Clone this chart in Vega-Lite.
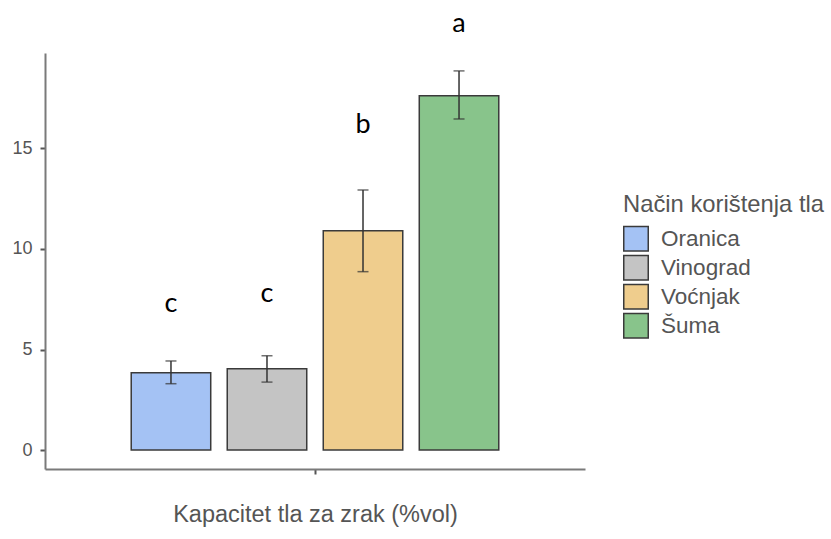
{
  "$schema": "https://vega.github.io/schema/vega-lite/v6.json",
  "autosize": "none",
  "width": 540,
  "height": 416,
  "padding": {"left": 45, "top": 53, "right": 246, "bottom": 70},
  "background": "white",
  "config": {
    "view": {"stroke": null},
    "axis": {"grid": false, "domainColor": "#7a7a7a", "domainWidth": 2, "tickColor": "#555", "tickWidth": 2, "tickSize": 5, "labelFont": "Liberation Sans", "titleFont": "Liberation Sans", "labelColor": "#555", "titleColor": "#555"}
  },
  "data": {
    "values": [
      {"grp": "K", "nacin": "Oranica", "mean": 3.84, "lo": 3.3, "hi": 4.43, "letter": "c", "ly": 6.88},
      {"grp": "K", "nacin": "Vinograd", "mean": 4.04, "lo": 3.38, "hi": 4.69, "letter": "c", "ly": 7.37},
      {"grp": "K", "nacin": "Voćnjak", "mean": 10.9, "lo": 8.87, "hi": 12.93, "letter": "b", "ly": 15.76},
      {"grp": "K", "nacin": "Šuma", "mean": 17.62, "lo": 16.46, "hi": 18.85, "letter": "a", "ly": 20.8}
    ]
  },
  "encoding": {
    "x": {"field": "grp", "type": "nominal", "scale": {"paddingOuter": 0.203, "paddingInner": 0},
      "axis": {"title": "Kapacitet tla za zrak (%vol)", "labels": false, "titleFontSize": 23.5, "titleFontWeight": "normal", "titlePadding": 27}},
    "xOffset": {"field": "nacin", "type": "nominal", "sort": ["Oranica", "Vinograd", "Voćnjak", "Šuma"], "scale": {"paddingInner": 0.172, "paddingOuter": 0.086}}
  },
  "layer": [
    {
      "mark": {"type": "bar", "stroke": "#3a3a3a", "strokeWidth": 1.5},
      "encoding": {
        "y": {"field": "mean", "type": "quantitative", "scale": {"domain": [-0.94, 19.74], "nice": false, "zero": false},
          "axis": {"title": null, "values": [0, 5, 10, 15], "labelFontSize": 18, "labelPadding": 8}},
        "y2": {"datum": 0},
        "color": {"field": "nacin", "type": "nominal", "sort": ["Oranica", "Vinograd", "Voćnjak", "Šuma"],
          "scale": {"domain": ["Oranica", "Vinograd", "Voćnjak", "Šuma"], "range": ["#a4c2f4", "#c4c4c4", "#efcd8d", "#88c48b"]},
          "legend": {"title": "Način korištenja tla", "orient": "none", "legendX": 578, "legendY": 140, "titleFont": "Liberation Sans", "titleFontSize": 23.8, "titleFontWeight": "normal", "titleColor": "#555", "titlePadding": 9, "titleLimit": 400, "labelFont": "Liberation Sans", "labelFontSize": 22.5, "labelColor": "#555", "labelOffset": 12, "labelLimit": 300, "symbolType": "square", "symbolSize": 600, "symbolStrokeColor": "#3a3a3a", "symbolStrokeWidth": 1.5, "rowPadding": -8, "symbolOpacity": 1}}
      }
    },
    {
      "mark": {"type": "rule", "color": "#333", "strokeWidth": 1.5},
      "encoding": {"y": {"field": "lo", "type": "quantitative"}, "y2": {"field": "hi"}}
    },
    {
      "mark": {"type": "tick", "color": "#333", "thickness": 1.5, "size": 11},
      "encoding": {"y": {"field": "lo", "type": "quantitative"}}
    },
    {
      "mark": {"type": "tick", "color": "#333", "thickness": 1.5, "size": 11},
      "encoding": {"y": {"field": "hi", "type": "quantitative"}}
    },
    {
      "mark": {"type": "text", "font": "Lato", "fontSize": 27, "color": "#000", "baseline": "alphabetic", "align": "center"},
      "encoding": {"y": {"field": "ly", "type": "quantitative"}, "text": {"field": "letter"}}
    }
  ]
}
